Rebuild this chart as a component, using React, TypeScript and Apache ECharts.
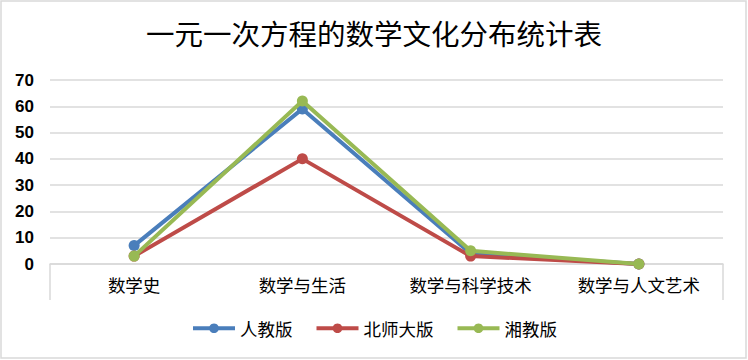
import React, { useEffect, useRef } from "react";
import * as echarts from "echarts";

const categories = ["数学史", "数学与生活", "数学与科学技术", "数学与人文艺术"];
const seriesNames = ["人教版", "北师大版", "湘教版"];
const renJiao = [7, 59, 4, 0];
const beiShiDa = [3, 40, 3, 0];
const xiangJiao = [3, 62, 5, 0];
const colors = ["#4A7EBB", "#BE4B48", "#98B954"];
const yTicks = { min: 0, max: 70, interval: 10 };

export default function App() {
  const ref = useRef<HTMLDivElement>(null);
  useEffect(() => {
    if (!ref.current) return;
    const chart = echarts.init(ref.current, null, { renderer: "svg" });
    const gridLeft = 50;
    const gridRight = 25;
    const gridTop = 80;
    const gridBottom = 96;
    const W = 748;
    const H = 360;
    const dataSets = [renJiao, beiShiDa, xiangJiao];
    chart.setOption({
      animation: false,
      backgroundColor: "#fff",
      title: {
        text: "一元一次方程的数学文化分布统计表",
        left: "center",
        top: 13,
        textStyle: {
          fontFamily: "Noto Sans CJK SC",
          fontSize: 28.5,
          fontWeight: "normal",
          color: "#000",
        },
      },
      legend: {
        bottom: 18,
        left: "center",
        itemWidth: 42,
        itemHeight: 12,
        itemGap: 22,
        lineStyle: { width: 4 },
        textStyle: {
          fontFamily: "Noto Sans CJK SC",
          fontSize: 17.5,
          color: "#000",
        },
        data: seriesNames,
      },
      grid: { left: gridLeft, right: gridRight, top: gridTop, bottom: gridBottom, containLabel: false },
      xAxis: {
        type: "category",
        data: categories,
        boundaryGap: true,
        axisLine: { show: true, lineStyle: { color: "#D9D9D9", width: 1.5 } },
        axisTick: { show: false },
        axisLabel: {
          fontFamily: "Noto Sans CJK SC",
          fontSize: 17.5,
          color: "#000",
          margin: 12,
        },
      },
      yAxis: {
        type: "value",
        min: yTicks.min,
        max: yTicks.max,
        interval: yTicks.interval,
        axisLine: { show: false },
        axisTick: { show: false },
        splitLine: { lineStyle: { color: "#D9D9D9", width: 1.5 } },
        axisLabel: {
          fontFamily: "Liberation Sans",
          fontWeight: "bold",
          fontSize: 17,
          color: "#000",
          margin: 16,
        },
      },
      series: seriesNames.map((name, i) => ({
        name,
        type: "line",
        data: dataSets[i],
        symbol: "circle",
        symbolSize: 11,
        lineStyle: { width: 4, color: colors[i] },
        itemStyle: { color: colors[i] },
        z: 2 + i,
      })),
      graphic: [
        {
          type: "rect",
          shape: { x: 1, y: 1, width: W - 3, height: H - 3 },
          style: { fill: "none", stroke: "#D9D9D9", lineWidth: 1.5 },
          silent: true,
        },
        {
          type: "line",
          shape: { x1: gridLeft, y1: H - gridBottom, x2: gridLeft, y2: H - gridBottom + 36 },
          style: { stroke: "#D9D9D9", lineWidth: 1.5 },
          silent: true,
        },
        {
          type: "line",
          shape: { x1: W - gridRight, y1: H - gridBottom, x2: W - gridRight, y2: H - gridBottom + 36 },
          style: { stroke: "#D9D9D9", lineWidth: 1.5 },
          silent: true,
        },
      ],
    });
    return () => chart.dispose();
  }, []);
  return (
    <div
      ref={ref}
      style={{ position: "fixed", left: 0, top: 0, width: 748, height: 360 }}
    />
  );
}
